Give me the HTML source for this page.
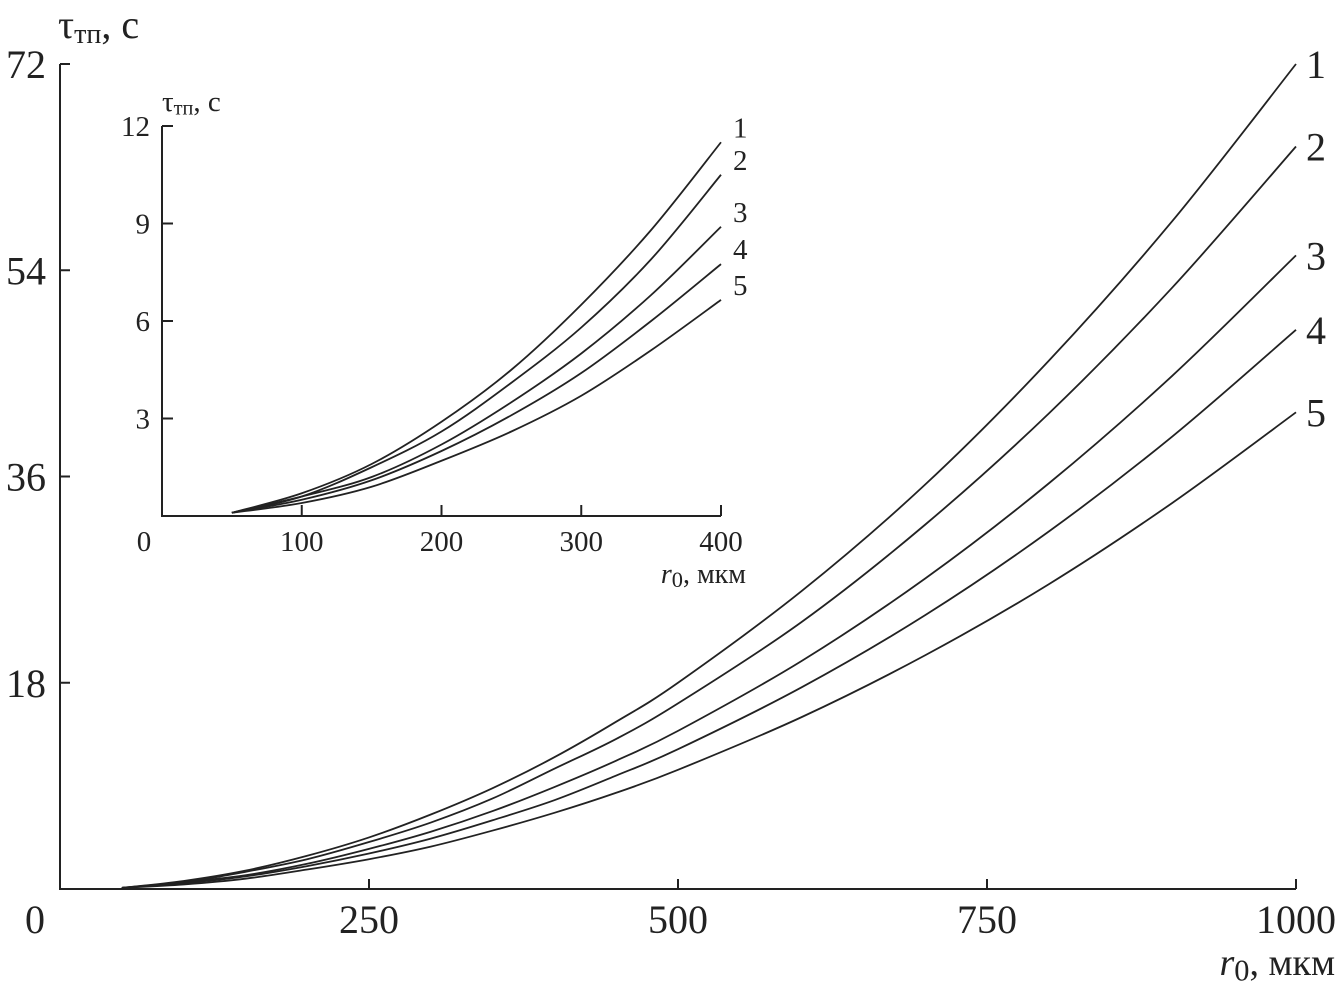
<!DOCTYPE html>
<html><head><meta charset="utf-8"><style>
html,body{margin:0;padding:0;background:#fff}
svg{display:block}
text{font-family:"Liberation Serif",serif;fill:#222}
</style></head><body>
<svg id="chart" width="1339" height="1003" viewBox="0 0 1339 1003" xmlns="http://www.w3.org/2000/svg">
<g id="main"></g>
<g id="inset"></g>
</svg>
<script>
const radii = [50,100,150,200,250,300,350,400,450,500,600,700,800,900,1000];
const curve1 = [0.1,0.7,1.6,2.9,4.5,6.5,8.8,11.5,14.6,18.0,26.0,35.3,46.1,58.3,72.0];
const curve2 = [0.1,0.6,1.5,2.6,4.1,5.8,7.9,10.5,13.1,16.2,23.3,31.8,41.5,52.5,64.8];
const curve3 = [0.1,0.6,1.2,2.2,3.5,5.0,6.8,8.9,11.2,13.8,19.9,27.1,35.4,44.8,55.3];
const curve4 = [0.1,0.5,1.1,2.0,3.1,4.4,6.0,7.75,9.9,12.2,17.6,23.9,31.2,39.5,48.8];
const curve5 = [0.1,0.4,0.9,1.7,2.6,3.7,5.1,6.65,8.4,10.4,15.0,20.4,26.6,33.7,41.6];
const curveLabels = ["1","2","3","4","5"];
const mainXTicks = [0,250,500,750,1000];
const mainYTicks = [0,18,36,54,72];
const insetXTicks = [0,100,200,300,400];
const insetYTicks = [0,3,6,9,12];
const series = [curve1,curve2,curve3,curve4,curve5];
const NS="http://www.w3.org/2000/svg";
function mk(parent,tag,attrs,txt){const e=document.createElementNS(NS,tag);for(const k in attrs)e.setAttribute(k,attrs[k]);if(txt!==undefined)e.textContent=txt;parent.appendChild(e);return e;}
function path(pts){let d="M"+pts[0][0]+","+pts[0][1];for(let i=0;i<pts.length-1;i++){const p0=pts[Math.max(0,i-1)],p1=pts[i],p2=pts[i+1],p3=pts[Math.min(pts.length-1,i+2)];const c1x=p1[0]+(p2[0]-p0[0])/6,c1y=p1[1]+(p2[1]-p0[1])/6,c2x=p2[0]-(p3[0]-p1[0])/6,c2y=p2[1]-(p3[1]-p1[1])/6;d+=" C"+c1x+","+c1y+" "+c2x+","+c2y+" "+p2[0]+","+p2[1];}return d;}
function plot(g,cfg){
 const sx=v=>cfg.x0+(v-cfg.xmin)/(cfg.xmax-cfg.xmin)*(cfg.x1-cfg.x0);
 const sy=v=>cfg.y0-(v-cfg.ymin)/(cfg.ymax-cfg.ymin)*(cfg.y0-cfg.y1);
 const ax=mk(g,'path',{d:`M${cfg.x0},${cfg.y1}V${cfg.y0}H${cfg.x1}`,fill:'none',stroke:'#222','stroke-width':2});
 
 
 cfg.xt.forEach(t=>{
  if(t>cfg.xmin){const l=mk(g,'line',{x1:sx(t),x2:sx(t),y1:cfg.y0,y2:cfg.y0-cfg.tl,stroke:'#222','stroke-width':2});
  
  }
  const tx=mk(g,'text',{x:t===cfg.xmin?cfg.x0-cfg.zoff:sx(t),y:cfg.y0+cfg.xlo,'font-size':cfg.fs,'text-anchor':'middle'},String(t));
  
  
 });
 cfg.yt.forEach(t=>{
  if(t===cfg.ymin)return;
  const l=mk(g,'line',{x1:cfg.x0,x2:cfg.x0+cfg.tl,y1:sy(t),y2:sy(t),stroke:'#222','stroke-width':2});
  
  
  const tx=mk(g,'text',{x:cfg.x0-cfg.ylo,y:sy(t)+cfg.fs*0.35,'font-size':cfg.fs,'text-anchor':'end'},String(t));
  
  
 });
 series.forEach((s,i)=>{
  const pts=[];radii.forEach((r,j)=>{if(r<=cfg.xmax)pts.push([sx(r),sy(s[j])]);});
  const p=mk(g,'path',{d:path(pts),fill:'none',stroke:'#222','stroke-width':cfg.sw});
  
  
  const last=pts[pts.length-1];
  const lb=mk(g,'text',{x:last[0]+cfg.lx,y:last[1]+cfg.ly,'font-size':cfg.lfs},curveLabels[i]);
  
  
 });
}
const main=document.getElementById('main'), inset=document.getElementById('inset');
plot(main,{pre:'main-',x0:60,x1:1296,y0:889,y1:64,xmin:0,xmax:1000,ymin:0,ymax:72,xt:mainXTicks,yt:mainYTicks,tl:10,fs:40,xlo:44,ylo:14,zoff:25,sw:1.8,lx:10,ly:14,lfs:40});
plot(inset,{pre:'inset-',x0:162,x1:721,y0:516,y1:126,xmin:0,xmax:400,ymin:0,ymax:12,xt:insetXTicks,yt:insetYTicks,tl:11,fs:29,xlo:35,ylo:12,zoff:18,sw:1.8,lx:12,ly:-5,lfs:29});
function title(g,x,y,fs,name){const t=mk(g,'text',{x:x,y:y,'font-size':fs});
 mk(t,'tspan',{},'τ');mk(t,'tspan',{'font-size':fs*0.7,dy:fs*0.12},'тп');mk(t,'tspan',{dy:-fs*0.12},', с');}
title(main,58,38,40,'main-y-axis-title');
title(inset,162,111,29,'inset-y-axis-title');
function xl(g,x,y,fs,name){const t=mk(g,'text',{x:x,y:y,'font-size':fs,'text-anchor':'end'});
 mk(t,'tspan',{'font-style':'italic'},'r');mk(t,'tspan',{'font-size':fs*0.8,dy:fs*0.15},'0');mk(t,'tspan',{dy:-fs*0.15},', мкм');}
xl(main,1335,975,38,'main-x-axis-title');
xl(inset,746,583,28,'inset-x-axis-title');
</script>
</body></html>
